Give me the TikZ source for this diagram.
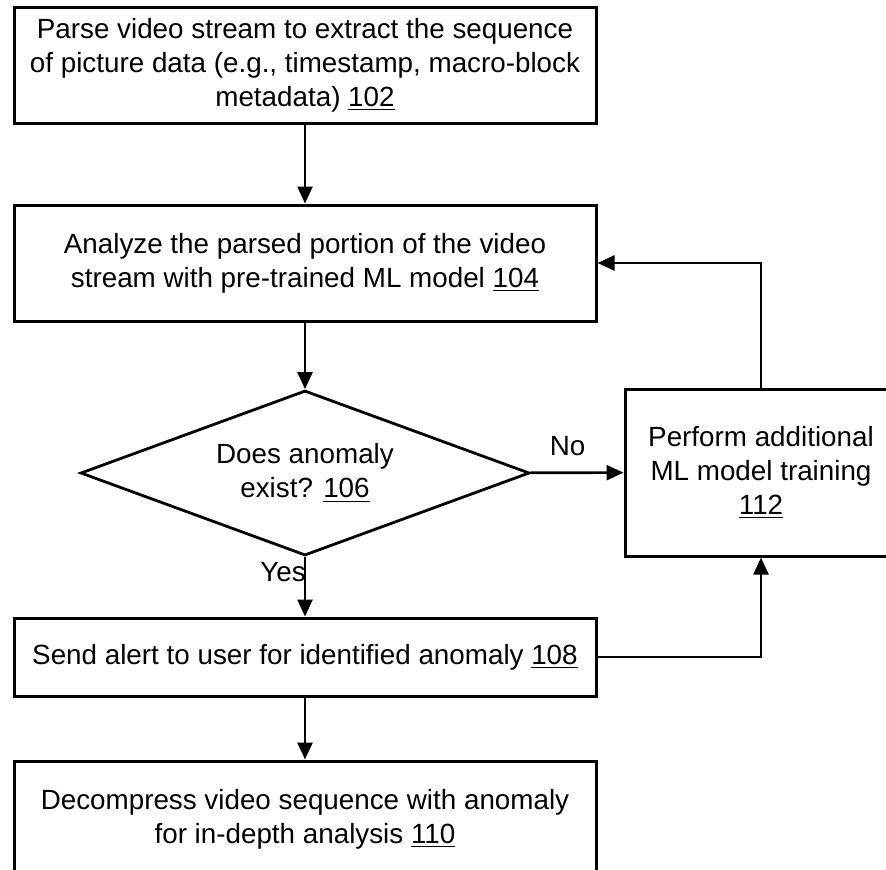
\documentclass[tikz,border=0pt]{standalone}
\usepackage{fontspec}
\setmainfont{Liberation Sans}
\usetikzlibrary{arrows.meta,shapes.geometric}
\newcommand{\flowfont}{\fontsize{13.9}{17}\selectfont}
\newcommand{\fignum}[1]{\underline{#1}}
\tikzset{
  pbox/.style={rectangle,draw,line width=1.5pt,minimum width=291pt,align=center,font=\flowfont},
  dnode/.style={diamond,draw,line width=1.4pt,aspect=2.72,minimum width=224.5pt,minimum height=82.5pt,inner sep=0pt,align=center,font=\flowfont},
  arr/.style={-{Triangle[length=8.5pt,width=7.5pt]},line width=1.3pt},
  lbl/.style={font=\flowfont,inner sep=0pt}
}

\begin{document}
\begin{tikzpicture}[x=0.5pt,y=-0.5pt]
\useasboundingbox (0,0) rectangle (886,869);
\node[pbox,minimum height=58pt] (parse) at (305,65) {Parse video stream to extract the sequence\\of picture data (e.g., timestamp, macro-block\\metadata) \fignum{102}};
\node[pbox,minimum height=58pt] (analyze) at (305,263) {Analyze the parsed portion of the video\\stream with pre-trained ML model \fignum{104}};
\node[dnode] (anomaly) at (305,473) {Does anomaly\\exist? \fignum{106}};
\node[pbox,minimum height=39pt] (alert) at (305,657) {Send alert to user for identified anomaly \fignum{108}};
\node[pbox,minimum height=58.5pt] (decomp) at (305,819.5) {Decompress video sequence with anomaly\\for in-depth analysis \fignum{110}};
\node[pbox,minimum width=136pt,minimum height=83.5pt] (train) at (761,472.5) {Perform additional\\ML model training\\\fignum{112}};
\draw[arr] (parse) -- (analyze);
\draw[arr] (analyze) -- (anomaly);
\draw[arr] (anomaly) -- node[lbl,pos=0.4,above=8pt] (nolbl) {No} (train);
\draw[arr] (anomaly) -- node[lbl,pos=0.26,anchor=east,xshift=1pt] (yeslbl) {Yes} (alert);
\draw[arr] (alert) -- (decomp);
\draw[arr] (alert.east) -| (train.south);
\draw[arr] (train.north) |- (analyze.east);
\end{tikzpicture}
\end{document}
